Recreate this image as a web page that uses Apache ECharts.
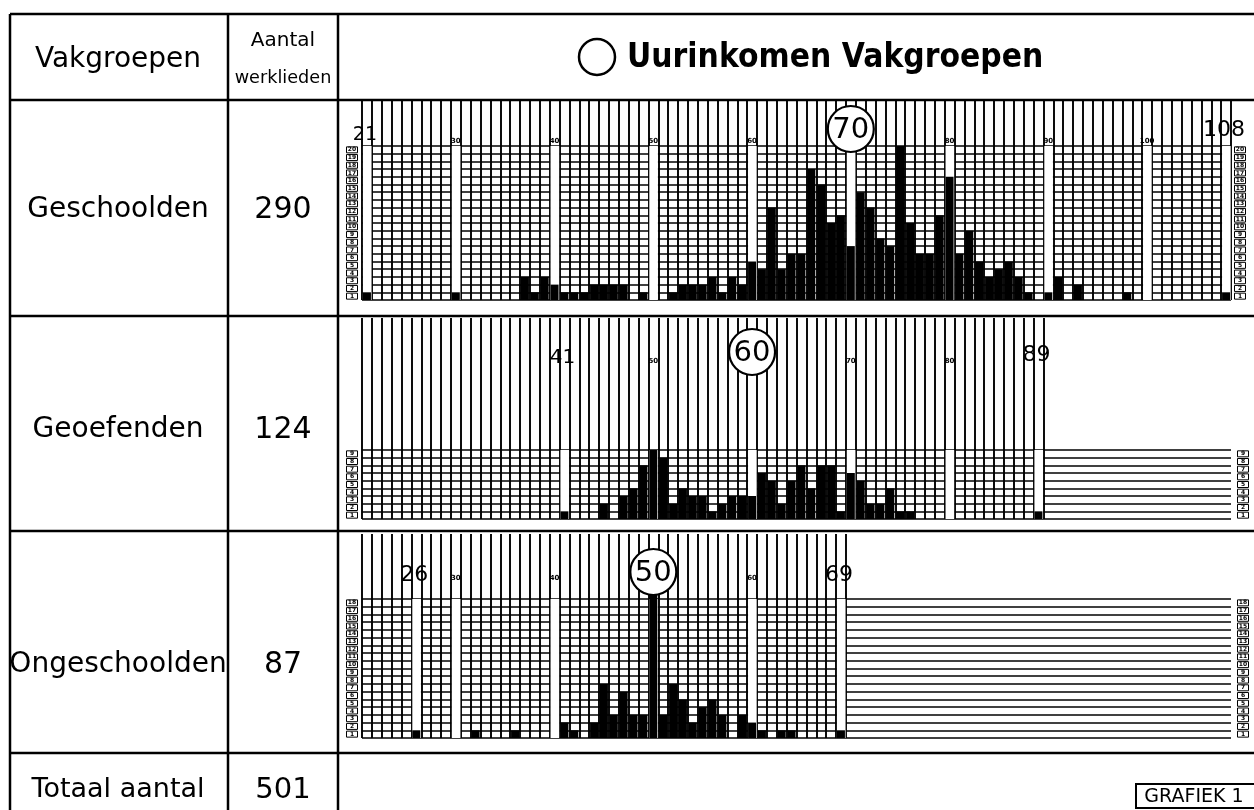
<!DOCTYPE html>
<html><head><meta charset="utf-8">
<script src="https://cdn.jsdelivr.net/npm/echarts@6/dist/echarts.min.js"></script>
<style>html,body{margin:0;padding:0;background:#fff}#c{width:1254px;height:810px}</style>
</head><body><div id="c"></div>
<script>
// ---- DATA ----
const cents = [21,22,23,24,25,26,27,28,29,30,31,32,33,34,35,36,37,38,39,40,41,42,43,44,45,46,47,48,49,50,
  51,52,53,54,55,56,57,58,59,60,61,62,63,64,65,66,67,68,69,70,71,72,73,74,75,76,77,78,79,80,
  81,82,83,84,85,86,87,88,89,90,91,92,93,94,95,96,97,98,99,100,101,102,103,104,105,106,107,108];
const geschoolden = [1,0,0,0,0,0,0,0,0,1, 0,0,0,0,0,0,3,1,3,2, 1,1,1,2,2,2,2,0,1,0,
  0,1,2,2,2,3,1,3,2,5, 4,12,4,6,6,17,15,10,11,7, 14,12,8,7,20,10,6,6,11,16,
  6,9,5,3,4,5,3,1,0,1, 3,0,2,0,0,0,0,1,0,0, 0,0,0,0,0,0,0,1];
const geoefenden = [0,0,0,0,0,0,0,0,0,0, 0,0,0,0,0,0,0,0,0,0, 1,0,0,0,2,0,3,4,7,9,
  8,2,4,3,3,1,2,3,3,3, 6,5,2,5,7,4,7,7,1,6, 5,2,2,4,1,1,0,0,0,0,
  0,0,0,0,0,0,0,0,1,0, 0,0,0,0,0,0,0,0,0,0, 0,0,0,0,0,0,0,0];
const ongeschoolden = [0,0,0,0,0,1,0,0,0,0, 0,1,0,0,0,1,0,0,0,0, 2,1,0,2,7,3,6,3,3,19,
  3,7,5,2,4,5,3,0,3,2, 1,0,1,1,0,0,0,0,1,0, 0,0,0,0,0,0,0,0,0,0,
  0,0,0,0,0,0,0,0,0,0, 0,0,0,0,0,0,0,0,0,0, 0,0,0,0,0,0,0,0];
const rowTicks1 = [1,2,3,4,5,6,7,8,9,10,11,12,13,14,15,16,17,18,19,20];
const rowTicks2 = [1,2,3,4,5,6,7,8,9];
const rowTicks3 = [1,2,3,4,5,6,7,8,9,10,11,12,13,14,15,16,17,18];
const whiteCols1 = [21,30,40,50,60,70,80,90,100,108];
const whiteCols2 = [41,50,60,70,80,89];
const whiteCols3 = [26,30,40,50,60,69];
const boldLabels1 = [21,108], smallLabels1 = [30,40,50,60,80,90,100], median1 = 70;
const boldLabels2 = [41,89],  smallLabels2 = [50,70,80], median2 = 60;
const boldLabels3 = [26,69],  smallLabels3 = [30,40,60], median3 = 50;
const groupNames = ['Geschoolden','Geoefenden','Ongeschoolden'];
const groupTotals = [290,124,87];
const grandTotal = 501;
const headers = ['Vakgroepen','Aantal','werklieden'];
const titleText = 'Uurinkomen Vakgroepen';

// ---- LAYOUT ----
const FONT = '"DejaVu Sans", sans-serif';
const gridLeft = 362, gridRight = 23, colW = (1254 - gridLeft - gridRight) / cents.length;
const panels = [
  {data:geschoolden, rows:rowTicks1, white:whiteCols1, last:108, lineTop:101, gridTop:146, gridBottom:300,
   bold:boldLabels1, small:smallLabels1, median:median1, boldY:[135,130], boldSize:[19,22], smallY:141, circleY:129, textY:210, rMargin:9},
  {data:geoefenden, rows:rowTicks2, white:whiteCols2, last:89, lineTop:318, gridTop:450, gridBottom:519,
   bold:boldLabels2, small:smallLabels2, median:median2, boldY:[358,355], boldSize:[20,22], smallY:361, circleY:352, textY:430, rMargin:12},
  {data:ongeschoolden, rows:rowTicks3, white:whiteCols3, last:69, lineTop:534, gridTop:599, gridBottom:738,
   bold:boldLabels3, small:smallLabels3, median:median3, boldY:[575,575], boldSize:[22,22], smallY:578, circleY:572, textY:665, rMargin:12}
];

const chart = echarts.init(document.getElementById('c'), null, {renderer:'canvas'});
const grid = [], xAxis = [], yAxis = [], series = [];
const rowLabel = (margin) => ({show:true, interval:0, fontSize:6, fontWeight:'bold', color:'#000', fontFamily:FONT,
  borderColor:'#000', borderWidth:1, padding:[0,1,0,1], width:9, align:'center', lineHeight:6, margin:margin});
panels.forEach((p,i)=>{
  const gA = grid.length;
  grid.push({left:gridLeft, right:gridRight, top:p.gridTop, height:p.gridBottom-p.gridTop, outerBoundsMode:'none', containLabel:false});
  grid.push({left:gridLeft, width:(p.last-20)*colW, top:p.lineTop, height:p.gridBottom-p.lineTop, outerBoundsMode:'none', containLabel:false});
  xAxis.push({type:'category', gridIndex:gA, data:cents.map(String), axisLine:{show:false}, axisTick:{show:false}, axisLabel:{show:false}, splitLine:{show:false}});
  xAxis.push({type:'category', gridIndex:gA+1, data:cents.slice(0, p.last-20).map(String), axisLine:{show:false},
    axisTick:{show:false, interval:0}, axisLabel:{show:false, interval:0}, splitLine:{show:true, interval:0, lineStyle:{color:'#000', width:1.9}}});
  const yv = yAxis.length;
  yAxis.push({type:'value', gridIndex:gA, min:0, max:p.rows.length, interval:1, axisLabel:{show:false}, axisLine:{show:false}, axisTick:{show:false},
    splitLine:{show:true, lineStyle:{color:'#000', width:1.5}}});
  yAxis.push({type:'category', gridIndex:gA, position:'left', data:p.rows.map(String), axisLine:{show:false}, axisTick:{show:false}, splitLine:{show:false}, axisLabel:rowLabel(10)});
  yAxis.push({type:'category', gridIndex:gA, position:'right', data:p.rows.map(String), axisLine:{show:false}, axisTick:{show:false}, splitLine:{show:false}, axisLabel:rowLabel(p.rMargin)});
  yAxis.push({type:'value', gridIndex:gA+1, show:false});
  series.push({type:'bar', xAxisIndex:2*i, yAxisIndex:yv, data:cents.map(c=>p.white.includes(c)?p.rows.length:'-'),
    barWidth:8.6, barGap:'-100%', itemStyle:{color:'#fff'}, silent:true, z:2});
  series.push({type:'bar', xAxisIndex:2*i, yAxisIndex:yv, data:p.data.map(v=>v||'-'),
    barWidth:8, barGap:'-100%', itemStyle:{color:'#000'}, clip:false, z:3});
});
chart.setOption({animation:false, backgroundColor:'#fff', grid, xAxis, yAxis, series});

// ---- graphics (table, texts, axis labels placed via the axis scale) ----
const g = [];
const line = (x1,y1,x2,y2,w) => g.push({type:'line', z:100, shape:{x1,y1,x2,y2}, style:{stroke:'#000', lineWidth:w||2.5}});
const text = (x,y,t,size,opts) => g.push(Object.assign({type:'text', z:101, x, y, style:Object.assign({text:t, fontSize:size, fontFamily:FONT, fill:'#000', align:'center', verticalAlign:'middle'}, (opts&&opts.style)||{})}, (opts&&opts.el)||{}));
line(10,14,1254,14); line(10,14,10,810); line(228,14,228,810); line(338,14,338,810);
line(10,100,1254,100); line(10,316,1254,316); line(10,531,1254,531); line(10,753,1254,753);
text(118,60,headers[0],28);
text(283,41,headers[1],20);
text(283,78,headers[2],18, {el:{scaleX:0.98}});
g.push({type:'circle', z:100, shape:{cx:597, cy:57, r:18}, style:{fill:'#fff', stroke:'#000', lineWidth:2.5}});
text(627,58,titleText,34,{style:{align:'left', fontWeight:'bold'}, el:{scaleX:0.88}});
panels.forEach((p,i)=>{
  text(118,p.textY,groupNames[i],28);
  text(283,p.textY,String(groupTotals[i]),30);
  const xOf = c => chart.convertToPixel({xAxisIndex:2*i}, String(c));
  p.bold.forEach((c,k)=>text(xOf(c)-2, p.boldY[k], String(c), p.boldSize[k]));
  p.small.forEach(c=>text(xOf(c), p.smallY, String(c), 7, {style:{fontWeight:'bold'}}));
  const mx = xOf(p.median);
  g.push({type:'circle', z:100, shape:{cx:mx, cy:p.circleY, r:23}, style:{fill:'#fff', stroke:'#000', lineWidth:2.2}});
  text(mx, p.circleY+1, String(p.median), 29);
});
text(118,790,'Totaal aantal',27);
text(283,790,String(grandTotal),29);
g.push({type:'rect', z:100, shape:{x:1136, y:784, width:124, height:24}, style:{fill:'#fff', stroke:'#000', lineWidth:2}});
text(1194,797,'GRAFIEK 1',19);
chart.setOption({graphic:g});
</script></body></html>
